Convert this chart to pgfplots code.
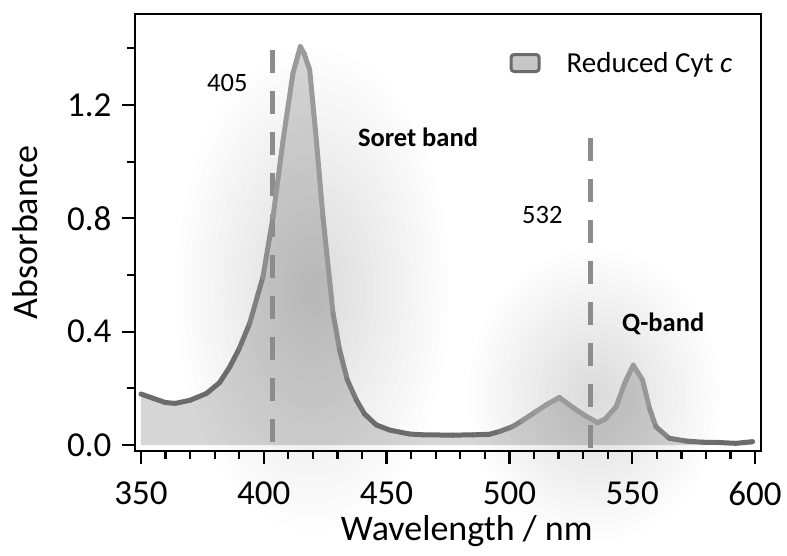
\documentclass[border=0pt]{standalone}
\usepackage{pgfplots}
\pgfplotsset{compat=1.18}
\usepackage{fontspec}
\setmainfont{Carlito}
\definecolor{lineDark}{HTML}{6B6B6B}
\definecolor{lineLight}{HTML}{9A9A9A}
\definecolor{dashC}{HTML}{8C8C8C}

\pgfplotstableread{
x y c
350.0 0.180 0
355.0 0.165 0
360.0 0.150 0
364.0 0.147 0
370.0 0.158 0
376.7 0.182 0
382.0 0.220 0
386.2 0.276 0
390.0 0.340 0.1
394.3 0.430 0.3
399.7 0.594 0.6
403.8 0.806 0.9
407.9 1.077 1
411.9 1.312 1
414.9 1.406 1
416.5 1.380 1
418.7 1.324 1
421.4 1.077 1
424.1 0.806 1
428.2 0.465 0.8
430.9 0.335 0.6
434.0 0.230 0.4
437.7 0.159 0.2
441.0 0.110 0.1
445.8 0.071 0
451.2 0.053 0
459.3 0.039 0
465.0 0.036 0
477.0 0.035 0
485.0 0.036 0
491.9 0.038 0
496.0 0.048 0.1
501.3 0.065 0.4
505.0 0.085 0.7
510.8 0.118 1
515.0 0.142 1
520.3 0.168 1
526.4 0.129 1
531.0 0.103 1
535.9 0.079 1
539.0 0.092 1
543.4 0.135 1
547.0 0.220 1
550.4 0.282 1
554.2 0.229 1
557.0 0.130 0.9
559.6 0.065 0.7
565.0 0.024 0.4
572.0 0.014 0.2
578.6 0.010 0.1
585.0 0.009 0
592.2 0.006 0
599.0 0.012 0
}\spectrum

\begin{document}
\begin{tikzpicture}
\begin{axis}[
  scale only axis, width=626pt, height=437pt,
  xmin=347.6, xmax=602.4, ymin=-0.021, ymax=1.521,
  clip=false,
  axis line style={line width=2.5pt, black},
  xtick={350,400,...,600}, ytick={0,0.4,0.8,1.2},
  minor xtick={360,370,...,590}, minor ytick={0.2,0.6,1.0,1.4},
  xtick pos=bottom, ytick pos=left,
  tick align=outside,
  major tick length=13pt, minor tick length=8pt,
  tick style={line width=2.2pt, black},
  tick label style={font=\fontsize{35}{40}\selectfont},
  x tick label style={yshift=-14pt},
  y tick label style={xshift=-7pt, /pgf/number format/fixed, /pgf/number format/fixed zerofill, /pgf/number format/precision=1},
  /pgf/number format/assume math mode=true,
  /pgf/number format/1000 sep={},
  xlabel={Wavelength / nm}, ylabel={Absorbance},
  label style={font=\fontsize{36}{40}\selectfont},
  xlabel style={at={(axis description cs:0.53,-0.2037)}, anchor=base},
  ylabel style={at={(axis description cs:-0.1757,0.5)}, anchor=center},
  colormap={gr}{color=(lineDark) color=(lineLight)},
  legend style={at={(axis cs:500,1.348)}, anchor=west, draw=none, fill=none, inner sep=0pt,
    font=\fontsize{29}{32}\selectfont, column sep=24pt},
  legend cell align=left,
]
% background glows (stacked translucent ellipses)
\pgfplotsinvokeforeach{1,...,18}{
  \fill[black, opacity=0.0095] (axis cs:420,0.55) ellipse [x radius=#1*7.6pt, y radius=#1*13.4pt];
  \fill[black, opacity=0.0095] (axis cs:534.6,0.176) ellipse [x radius=#1*7pt, y radius=#1*8.1pt];
}
% fill under the curve
\addplot[draw=none, fill=black, fill opacity=0.16, forget plot] table[x=x, y=y] {\spectrum} \closedcycle;
% dashed markers
\addplot[dashC, line width=5pt, dash pattern=on 23pt off 18pt, forget plot] coordinates {(403.5,1.394) (403.5,-0.021)};
\addplot[dashC, line width=5pt, dash pattern=on 23pt off 18pt, forget plot] coordinates {(532.8,-0.01) (532.8,1.12)};
% curve
\addplot[mesh, point meta=explicit, line width=5pt, line cap=round, line join=round, forget plot]
  table[x=x, y=y, meta=c] {\spectrum};
\addlegendimage{legend image code/.code={\draw[line width=3pt, draw=lineDark, fill=black!22, rounded corners=3pt] (0pt,-8.5pt) rectangle (28pt,8.5pt);}}
\addlegendentry{Reduced Cyt \textit{c}}
\node[anchor=base, font=\fontsize{26.5}{30}\selectfont] at (axis cs:385.2,1.246) {405};
\node[anchor=base, font=\fontsize{26.5}{30}\selectfont\bfseries] at (axis cs:462.8,1.052) {Soret band};
\node[anchor=base, font=\fontsize{26.5}{30}\selectfont] at (axis cs:513.4,0.782) {532};
\node[anchor=base, font=\fontsize{26.5}{30}\selectfont\bfseries] at (axis cs:562.6,0.400) {Q-band};
\end{axis}
\pgfresetboundingbox
\path (current axis.south west) ++(-135pt,-105pt) coordinate (bbA);
\path (current axis.north east) ++(26pt,14pt) coordinate (bbB);
\path (bbA) rectangle (bbB);
\end{tikzpicture}
\end{document}
